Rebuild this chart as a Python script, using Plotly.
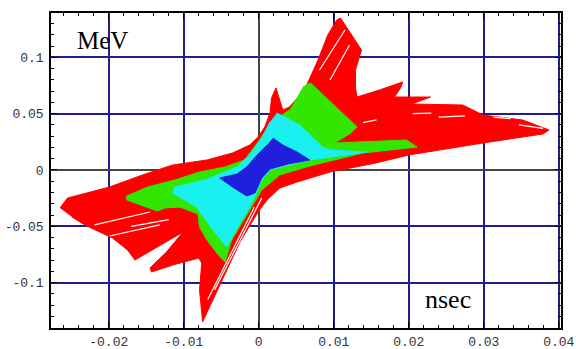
import plotly.graph_objects as go

# Phase-space acceptance regions (time offset in nsec vs energy offset in MeV)
red_x = [-0.0265, -0.0255, -0.0199, -0.0155, -0.0115, -0.0069, -0.0035, -0.0012, -0.0001, 0.0008,
         0.0015, 0.0017, 0.0023, 0.0028, 0.0032, 0.0041, 0.0055, 0.0064, 0.0079, 0.0092,
         0.0104, 0.0109, 0.0117, 0.0131, 0.0137, 0.0129, 0.0129, 0.0131, 0.0161, 0.0192,
         0.0189, 0.0181, 0.0229, 0.0204, 0.0272, 0.0299, 0.0352, 0.0387, 0.0379, 0.0299,
         0.0200, 0.0156, 0.0095, 0.0051, 0.0028, 0.0011, -0.0001, -0.0025, -0.0052, -0.0075,
         -0.0076, -0.0079, -0.0076, -0.0080, -0.0115, -0.0143, -0.0145, -0.0123, -0.0101, -0.0165,
         -0.0175, -0.0195, -0.0212, -0.0232, -0.0249]
red_y = [-0.0337, -0.0249, -0.0151, -0.0044, 0.0044, 0.0089, 0.0151, 0.0222, 0.0293, 0.0382,
         0.0506, 0.0639, 0.0728, 0.0622, 0.0533, 0.0560, 0.0666, 0.0755, 0.0977, 0.1199,
         0.1332, 0.1350, 0.1270, 0.1128, 0.1066, 0.0888, 0.0728, 0.0648, 0.0710, 0.0782,
         0.0728, 0.0648, 0.0648, 0.0586, 0.0577, 0.0488, 0.0444, 0.0355, 0.0320, 0.0240,
         0.0133, 0.0062, -0.0018, -0.0107, -0.0160, -0.0266, -0.0373, -0.0639, -0.1021, -0.1350,
         -0.1270, -0.1066, -0.0826, -0.0782, -0.0844, -0.0906, -0.0870, -0.0728, -0.0551, -0.0799,
         -0.0710, -0.0604, -0.0551, -0.0488, -0.0417]

green_x = [0.0059, 0.0069, 0.0131, 0.0121, 0.0101, 0.0197, 0.0211, 0.0139, 0.0068, 0.0028,
           0.0004, -0.0012, -0.0036, -0.0045, -0.0056, -0.0069, -0.0079, -0.0081, -0.0105, -0.0125,
           -0.0135, -0.0176, -0.0176, -0.0148, -0.0112, -0.0079, -0.0045, -0.0019, 0.0001, 0.0017,
           0.0032, 0.0041]
green_y = [0.0737, 0.0773, 0.0382, 0.0320, 0.0240, 0.0266, 0.0204, 0.0151, 0.0036, -0.0044,
           -0.0178, -0.0355, -0.0622, -0.0817, -0.0737, -0.0622, -0.0506, -0.0391, -0.0329, -0.0337,
           -0.0364, -0.0266, -0.0231, -0.0151, -0.0089, -0.0018, 0.0027, 0.0089, 0.0266, 0.0426,
           0.0488, 0.0533]

cyan_x = [0.0024, 0.0055, 0.0085, 0.0095, 0.0144, 0.0068, 0.0015, 0.0004, -0.0003, -0.0012,
          -0.0025, -0.0043, -0.0061, -0.0083, -0.0115, -0.0112, -0.0072, -0.0029, -0.0012, 0.0004,
          0.0015]
cyan_y = [0.0506, 0.0400, 0.0204, 0.0178, 0.0160, 0.0089, 0.0000, -0.0089, -0.0204, -0.0329,
          -0.0471, -0.0684, -0.0533, -0.0329, -0.0204, -0.0151, -0.0089, 0.0027, 0.0133, 0.0284,
          0.0426]

blue_x = [0.0019, 0.0032, 0.0051, 0.0068, 0.0039, 0.0015, 0.0004, -0.0005, -0.0016, -0.0035,
          -0.0052, -0.0029, -0.0016, -0.0001, 0.0011]
blue_y = [0.0284, 0.0222, 0.0160, 0.0089, 0.0053, 0.0009, -0.0071, -0.0204, -0.0231, -0.0151,
          -0.0071, -0.0036, 0.0027, 0.0142, 0.0222]

# thin unfilled gaps between tracked streaks
gap_x = [[0.0081, 0.0115], [0.0095, 0.0121], [0.0004, -0.0059], [-0.0006, -0.0068],
         [-0.0145, -0.0219], [-0.0132, -0.0199], [-0.0120, -0.0170],
         [0.0347, 0.0379], [0.0313, 0.0336], [0.0139, 0.0157], [0.0240, 0.0275], [0.0205, 0.0230]]
gap_y = [[0.0888, 0.1243], [0.0799, 0.1110], [-0.0249, -0.1066], [-0.0330, -0.1150],
         [-0.0373, -0.0488], [-0.0488, -0.0586], [-0.0440, -0.0500],
         [0.0400, 0.0370], [0.0470, 0.0455], [0.0420, 0.0445], [0.0470, 0.0480], [0.0500, 0.0505]]

x_ticks = [-0.02, -0.01, 0, 0.01, 0.02, 0.03, 0.04]
x_labels = ["-0.02", "-0.01", "0", "0.01", "0.02", "0.03", "0.04"]
y_ticks = [-0.1, -0.05, 0, 0.05, 0.1]
y_labels = ["-0.1", "-0.05", "0", "0.05", "0.1"]

regions = [
    (red_x, red_y, "#ff0000"),
    (green_x, green_y, "#33e600"),
    (cyan_x, cyan_y, "#19f0f0"),
    (blue_x, blue_y, "#2020dc"),
]

fig = go.Figure()
for xs, ys, col in regions[:1]:
    fig.add_trace(go.Scatter(x=xs, y=ys, fill="toself", fillcolor=col, mode="lines",
                             line=dict(color=col, width=1), hoverinfo="skip"))
for gx, gy in zip(gap_x, gap_y):
    fig.add_trace(go.Scatter(x=gx, y=gy, mode="lines", line=dict(color="white", width=1.2),
                             hoverinfo="skip"))
for xs, ys, col in regions[1:]:
    fig.add_trace(go.Scatter(x=xs, y=ys, fill="toself", fillcolor=col, mode="lines",
                             line=dict(color=col, width=1), hoverinfo="skip"))

fig.add_annotation(x=0.1, y=0.914, xref="paper", yref="paper", text="MeV", showarrow=False,
                   xanchor="center", yanchor="middle",
                   font=dict(family="Liberation Serif", size=25, color="black"))
fig.add_annotation(x=0.778, y=0.09, xref="paper", yref="paper", text="nsec", showarrow=False,
                   xanchor="center", yanchor="middle",
                   font=dict(family="Liberation Serif", size=26, color="black"))

tick_font = dict(family="Liberation Mono", size=13, color="#333333")
fig.update_xaxes(range=[-0.0277, 0.0403], tickmode="array", tickvals=x_ticks, ticktext=x_labels,
                 automargin=False,
                 showgrid=True, gridcolor="#1e1e8c", gridwidth=1.5,
                 zeroline=True, zerolinecolor="#444444", zerolinewidth=1.5,
                 showline=True, linecolor="black", linewidth=1.5, mirror="allticks",
                 ticks="inside", ticklen=6, tickcolor="black", tickwidth=1,
                 minor=dict(tick0=0, dtick=0.002, ticks="inside", ticklen=3, tickcolor="black",
                            showgrid=False),
                 tickfont=tick_font, ticklabelstandoff=1)
fig.update_yaxes(range=[-0.1403, 0.1394], tickmode="array", tickvals=y_ticks, ticktext=y_labels,
                 automargin=False,
                 showgrid=True, gridcolor="#1e1e8c", gridwidth=1.5,
                 zeroline=True, zerolinecolor="#444444", zerolinewidth=1.5,
                 showline=True, linecolor="black", linewidth=1.5, mirror="allticks",
                 ticks="inside", ticklen=6, tickcolor="black", tickwidth=1,
                 minor=dict(tick0=0, dtick=0.01, ticks="inside", ticklen=3, tickcolor="black",
                            showgrid=False),
                 tickfont=tick_font, ticklabelstandoff=3)
fig.update_layout(width=576, height=349, margin=dict(l=51, r=15, t=13, b=21),
                  paper_bgcolor="white", plot_bgcolor="white", showlegend=False)
fig.write_html("out.html")
